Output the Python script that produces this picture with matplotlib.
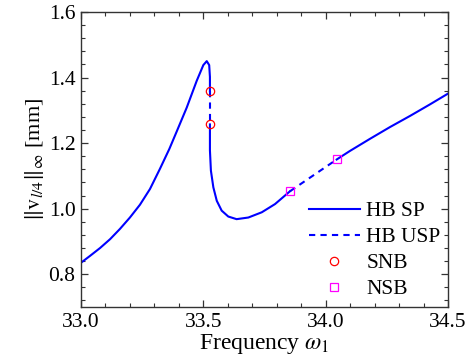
import matplotlib
matplotlib.use("Agg")
import matplotlib.pyplot as plt
from matplotlib.ticker import MultipleLocator, FormatStrFormatter

plt.rcParams['font.family'] = ['Liberation Serif', 'DejaVu Serif']
plt.rcParams['mathtext.fontset'] = 'stix'

# Stable branch 1 (rising part, peak, down to first saddle-node)
sp1_f = [33.000, 33.037, 33.078, 33.119, 33.159, 33.200, 33.241, 33.282, 33.323,
         33.361, 33.391, 33.432, 33.473, 33.500, 33.514, 33.524, 33.527, 33.527]
sp1_a = [0.835, 0.856, 0.880, 0.907, 0.938, 0.973, 1.012, 1.060, 1.122,
         1.182, 1.235, 1.308, 1.390, 1.438, 1.450, 1.438, 1.402, 1.359]
# Unstable branch between saddle-node points
usp1_f = [33.527, 33.527]
usp1_a = [1.359, 1.257]
# Stable branch 2 (down to minimum, up to first Neimark-Sacker)
sp2_f = [33.527, 33.527, 33.531, 33.541, 33.555, 33.575, 33.602, 33.636, 33.684,
         33.739, 33.793, 33.854]
sp2_a = [1.257, 1.178, 1.116, 1.065, 1.024, 0.994, 0.976, 0.968, 0.973,
         0.989, 1.014, 1.053]
# Unstable branch between NS points
usp2_f = [33.854, 34.045]
usp2_a = [1.053, 1.150]
# Stable branch 3
sp3_f = [34.045, 34.099, 34.181, 34.263, 34.345, 34.426, 34.500]
sp3_a = [1.150, 1.176, 1.213, 1.249, 1.283, 1.318, 1.351]

snb_f = [33.527, 33.527]
snb_a = [1.359, 1.257]
nsb_f = [33.854, 34.045]
nsb_a = [1.053, 1.150]

fig = plt.figure(figsize=(4.70, 3.62), dpi=100)
ax = fig.add_axes([0.1723, 0.1519, 0.9532 - 0.1723, 0.9669 - 0.1519])

blue = '#0000ff'
lw = 1.5
ax.plot(sp1_f, sp1_a, color=blue, lw=lw, label='HB SP', solid_joinstyle='round')
ax.plot(usp1_f, usp1_a, color=blue, lw=lw, ls=(0, (3, 2.5)), label='HB USP')
ax.plot(sp2_f, sp2_a, color=blue, lw=lw, solid_joinstyle='round')
ax.plot(usp2_f, usp2_a, color=blue, lw=lw, ls=(0, (3, 2.5)))
ax.plot(sp3_f, sp3_a, color=blue, lw=lw, solid_joinstyle='round')
ax.plot(snb_f, snb_a, ls='none', marker='o', ms=6, mfc='none', mec='#ff0000', mew=0.9, label='SNB')
ax.plot(nsb_f, nsb_a, ls='none', marker='s', ms=6, mfc='none', mec='#ff00ff', mew=0.9, label='NSB')

ax.set_xlim(33.0, 34.5)
ax.set_ylim(0.7, 1.6)
ax.xaxis.set_major_locator(MultipleLocator(0.5))
ax.xaxis.set_minor_locator(MultipleLocator(0.1))
ax.yaxis.set_major_locator(MultipleLocator(0.2))
ax.yaxis.set_minor_locator(MultipleLocator(0.04))
ax.xaxis.set_major_formatter(FormatStrFormatter('%.1f'))
ax.yaxis.set_major_formatter(FormatStrFormatter('%.1f'))
ax.tick_params(which='both', direction='in', top=True, right=True, color='#333333', labelsize=15.5, pad=4)
ax.tick_params(which='major', length=5, width=0.9)
ax.tick_params(which='minor', length=3, width=0.8)
for s in ax.spines.values():
    s.set_color('#333333')
    s.set_linewidth(1.0)

ax.set_xlabel(r'Frequency $\omega_1$', fontsize=17, labelpad=0)
ax.set_ylabel(r'$\Vert\mathrm{v}_{l/4}\Vert_\infty$ [mm]', fontsize=16, labelpad=2)

leg = ax.legend(loc='lower right', frameon=False, fontsize=15.5, handlelength=2.35,
                handletextpad=0.3, labelspacing=0.28, borderaxespad=0.1, borderpad=0.25)

fig.savefig('out.png', dpi=100)
